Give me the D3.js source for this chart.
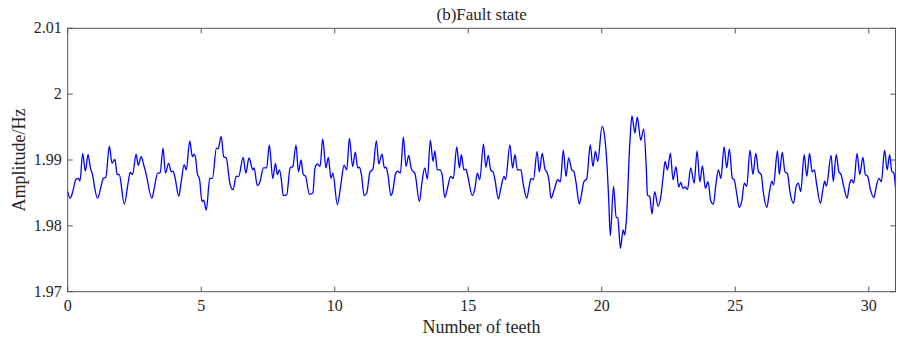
<!DOCTYPE html>
<html lang="en">
<head>
  <meta charset="UTF-8">
  <title>Fault state</title>
  <script src="https://d3js.org/d3.v7.min.js"></script>
  <style>
    body { margin: 0; background: #fff; }
  </style>
</head>
<body>
  <div id="chart"></div>
  <script>
    // Data (tooth number, amplitude)
    const teeth = [
      0.00, 0.09, 0.19, 0.31, 0.41, 0.46, 0.56, 0.66, 0.76, 0.85, 0.94, 1.00, 1.12, 1.25, 1.33, 1.43,
      1.56, 1.66, 1.77, 1.85, 1.93, 2.12, 2.25, 2.34, 2.43, 2.56, 2.64, 2.75, 2.85, 2.93, 3.15, 3.24,
      3.37, 3.46, 3.57, 3.66, 3.78, 3.88, 3.94, 4.01, 4.16, 4.25, 4.36, 4.44, 4.57, 4.67, 4.73, 4.79,
      4.85, 4.94, 5.03, 5.09, 5.19, 5.32, 5.42, 5.57, 5.63, 5.75, 5.84, 5.94, 6.07, 6.19, 6.31, 6.40,
      6.57, 6.67, 6.79, 6.93, 6.98, 7.10, 7.20, 7.33, 7.45, 7.55, 7.68, 7.78, 7.85, 7.93, 8.01, 8.07,
      8.20, 8.33, 8.43, 8.55, 8.64, 8.74, 8.82, 8.91, 9.05, 9.18, 9.26, 9.36, 9.45, 9.55, 9.67, 9.76,
      9.86, 9.93, 10.10, 10.22, 10.35, 10.45, 10.55, 10.67, 10.77, 10.86, 10.92, 11.00, 11.10, 11.20, 11.32, 11.43,
      11.56, 11.65, 11.77, 11.86, 11.92, 11.99, 12.10, 12.17, 12.27, 12.36, 12.46, 12.57, 12.67, 12.77, 12.86, 12.92,
      13.00, 13.17, 13.27, 13.37, 13.47, 13.58, 13.68, 13.75, 13.84, 13.94, 14.02, 14.12, 14.22, 14.34, 14.44, 14.57,
      14.67, 14.74, 14.84, 14.91, 14.97, 15.15, 15.25, 15.34, 15.43, 15.57, 15.66, 15.75, 15.84, 15.94, 16.00, 16.13,
      16.22, 16.34, 16.40, 16.56, 16.66, 16.75, 16.84, 16.97, 17.06, 17.19, 17.27, 17.35, 17.44, 17.58, 17.66, 17.77,
      17.88, 17.94, 18.02, 18.10, 18.22, 18.35, 18.45, 18.56, 18.66, 18.76, 18.88, 18.95, 19.04, 19.16, 19.25, 19.33,
      19.44, 19.57, 19.67, 19.76, 19.85, 20.01, 20.10, 20.20, 20.26, 20.32, 20.44, 20.54, 20.60, 20.70, 20.80, 20.86,
      20.92, 21.05, 21.13, 21.24, 21.33, 21.46, 21.57, 21.67, 21.71, 21.80, 21.88, 21.98, 22.11, 22.21, 22.30, 22.37,
      22.46, 22.57, 22.67, 22.78, 22.88, 22.96, 23.04, 23.13, 23.21, 23.33, 23.46, 23.57, 23.67, 23.77, 23.88, 23.98,
      24.08, 24.18, 24.28, 24.37, 24.46, 24.58, 24.68, 24.78, 24.89, 24.96, 25.06, 25.15, 25.24, 25.34, 25.43, 25.55,
      25.66, 25.77, 25.87, 25.97, 26.05, 26.18, 26.28, 26.37, 26.43, 26.58, 26.65, 26.76, 26.86, 26.95, 27.05, 27.18,
      27.28, 27.36, 27.45, 27.58, 27.68, 27.78, 27.88, 27.96, 28.04, 28.19, 28.28, 28.35, 28.41, 28.59, 28.67, 28.78,
      28.88, 28.96, 29.06, 29.19, 29.27, 29.35, 29.44, 29.56, 29.66, 29.78, 29.87, 29.96, 30.06, 30.19, 30.29, 30.38,
      30.47, 30.59, 30.69, 30.78, 30.86, 30.94, 31.00
    ];
    const amplitude = [
      1.9852, 1.9842, 1.9852, 1.9871, 1.9872, 1.9868, 1.9910, 1.9883, 1.9908, 1.9888, 1.9876, 1.9860, 1.9842, 1.9860, 1.9872, 1.9874,
      1.9921, 1.9895, 1.9901, 1.9878, 1.9878, 1.9833, 1.9862, 1.9881, 1.9878, 1.9909, 1.9892, 1.9905, 1.9892, 1.9880, 1.9842, 1.9857,
      1.9880, 1.9880, 1.9918, 1.9880, 1.9895, 1.9882, 1.9883, 1.9875, 1.9845, 1.9867, 1.9893, 1.9885, 1.9929, 1.9905, 1.9909, 1.9903,
      1.9880, 1.9870, 1.9837, 1.9839, 1.9824, 1.9872, 1.9872, 1.9918, 1.9917, 1.9936, 1.9905, 1.9903, 1.9865, 1.9855, 1.9875, 1.9875,
      1.9904, 1.9880, 1.9903, 1.9885, 1.9888, 1.9861, 1.9867, 1.9888, 1.9888, 1.9923, 1.9872, 1.9895, 1.9878, 1.9885, 1.9867, 1.9846,
      1.9847, 1.9888, 1.9890, 1.9923, 1.9882, 1.9900, 1.9878, 1.9875, 1.9848, 1.9850, 1.9888, 1.9894, 1.9890, 1.9932, 1.9888, 1.9904,
      1.9872, 1.9880, 1.9832, 1.9860, 1.9892, 1.9885, 1.9933, 1.9890, 1.9912, 1.9888, 1.9889, 1.9878, 1.9846, 1.9850, 1.9882, 1.9886,
      1.9929, 1.9894, 1.9909, 1.9888, 1.9889, 1.9878, 1.9846, 1.9852, 1.9878, 1.9883, 1.9880, 1.9935, 1.9890, 1.9907, 1.9888, 1.9883,
      1.9880, 1.9837, 1.9867, 1.9888, 1.9871, 1.9930, 1.9898, 1.9914, 1.9885, 1.9885, 1.9878, 1.9843, 1.9857, 1.9875, 1.9872, 1.9920,
      1.9888, 1.9908, 1.9885, 1.9886, 1.9878, 1.9846, 1.9857, 1.9880, 1.9870, 1.9924, 1.9889, 1.9907, 1.9885, 1.9881, 1.9870, 1.9841,
      1.9857, 1.9875, 1.9870, 1.9923, 1.9888, 1.9908, 1.9885, 1.9885, 1.9863, 1.9842, 1.9857, 1.9872, 1.9870, 1.9913, 1.9882, 1.9910,
      1.9885, 1.9882, 1.9870, 1.9842, 1.9855, 1.9870, 1.9867, 1.9915, 1.9875, 1.9903, 1.9885, 1.9883, 1.9865, 1.9833, 1.9850, 1.9867,
      1.9872, 1.9923, 1.9890, 1.9913, 1.9898, 1.9951, 1.9938, 1.9890, 1.9840, 1.9785, 1.9860, 1.9813, 1.9812, 1.9766, 1.9794, 1.9786,
      1.9808, 1.9925, 1.9967, 1.9941, 1.9965, 1.9930, 1.9947, 1.9885, 1.9847, 1.9844, 1.9818, 1.9852, 1.9830, 1.9844, 1.9875, 1.9898,
      1.9885, 1.9910, 1.9870, 1.9890, 1.9859, 1.9866, 1.9857, 1.9859, 1.9855, 1.9888, 1.9865, 1.9914, 1.9867, 1.9891, 1.9857, 1.9867,
      1.9838, 1.9833, 1.9865, 1.9885, 1.9872, 1.9920, 1.9888, 1.9917, 1.9872, 1.9870, 1.9847, 1.9828, 1.9837, 1.9865, 1.9860, 1.9915,
      1.9878, 1.9910, 1.9882, 1.9878, 1.9851, 1.9828, 1.9852, 1.9868, 1.9862, 1.9914, 1.9878, 1.9912, 1.9882, 1.9880, 1.9851, 1.9834,
      1.9860, 1.9865, 1.9852, 1.9908, 1.9875, 1.9910, 1.9882, 1.9885, 1.9865, 1.9834, 1.9855, 1.9868, 1.9860, 1.9907, 1.9867, 1.9908,
      1.9882, 1.9878, 1.9860, 1.9842, 1.9862, 1.9870, 1.9865, 1.9910, 1.9878, 1.9904, 1.9878, 1.9875, 1.9855, 1.9843, 1.9862, 1.9872,
      1.9867, 1.9915, 1.9885, 1.9908, 1.9883, 1.9880, 1.9857
    ];

    // Axis ticks
    const xTicks = [0, 5, 10, 15, 20, 25, 30];
    const yTicks = [1.97, 1.98, 1.99, 2.00, 2.01];
    const yTickLabels = ["1.97", "1.98", "1.99", "2", "2.01"];

    const width = 898;
    const height = 339;
    const margin = { top: 28.3, right: 2.5, bottom: 47.3, left: 67.7 };
    const tickLen = 5;
    const axisColor = "#555";
    const textColor = "#262626";
    const serif = "'Liberation Serif', 'Times New Roman', 'DejaVu Serif', serif";

    const svg = d3.select("#chart")
      .append("svg")
      .attr("width", width)
      .attr("height", height)
      .attr("font-family", serif);

    const x = d3.scaleLinear()
      .domain([0, 31])
      .range([margin.left, width - margin.right]);

    const y = d3.scaleLinear()
      .domain([1.97, 2.01])
      .range([height - margin.bottom, margin.top]);

    const x0 = x.range()[0], x1 = x.range()[1];
    const yBot = y.range()[0], yTop = y.range()[1];

    // The signal
    const points = teeth.map((t, i) => [t, amplitude[i]]);
    const line = d3.line()
      .x(d => x(d[0]))
      .y(d => y(d[1]))
      .curve(d3.curveMonotoneX);

    svg.append("path")
      .datum(points)
      .attr("fill", "none")
      .attr("stroke", "#0000ff")
      .attr("stroke-width", 1.3)
      .attr("stroke-linejoin", "round")
      .attr("d", line);

    // Box around the axes (MATLAB style, ticks inside on all four sides)
    svg.append("rect")
      .attr("x", x0)
      .attr("y", yTop)
      .attr("width", x1 - x0)
      .attr("height", yBot - yTop)
      .attr("fill", "none")
      .attr("stroke", axisColor)
      .attr("stroke-width", 1);

    const ticks = svg.append("g")
      .attr("stroke", axisColor)
      .attr("stroke-width", 1);

    xTicks.forEach(t => {
      ticks.append("line")
        .attr("x1", x(t)).attr("x2", x(t))
        .attr("y1", yBot).attr("y2", yBot - tickLen);
      ticks.append("line")
        .attr("x1", x(t)).attr("x2", x(t))
        .attr("y1", yTop).attr("y2", yTop + tickLen);
    });

    yTicks.forEach(v => {
      ticks.append("line")
        .attr("x1", x0).attr("x2", x0 + tickLen)
        .attr("y1", y(v)).attr("y2", y(v));
      ticks.append("line")
        .attr("x1", x1).attr("x2", x1 - tickLen)
        .attr("y1", y(v)).attr("y2", y(v));
    });

    // Tick labels
    svg.selectAll(".x-label")
      .data(xTicks)
      .join("text")
      .attr("class", "x-label")
      .attr("x", d => x(d))
      .attr("y", yBot + 19)
      .attr("text-anchor", "middle")
      .attr("fill", textColor)
      .style("font-size", "16px")
      .text(d => d);

    svg.selectAll(".y-label")
      .data(yTicks)
      .join("text")
      .attr("class", "y-label")
      .attr("x", x0 - 6)
      .attr("y", d => y(d) + 5)
      .attr("text-anchor", "end")
      .attr("fill", textColor)
      .style("font-size", "16px")
      .text((d, i) => yTickLabels[i]);

    // Titles
    svg.append("text")
      .attr("x", (x0 + x1) / 2)
      .attr("y", 20)
      .attr("text-anchor", "middle")
      .attr("fill", textColor)
      .style("font-size", "17px")
      .text("(b)Fault state");

    svg.append("text")
      .attr("x", (x0 + x1) / 2)
      .attr("y", 333)
      .attr("text-anchor", "middle")
      .attr("fill", textColor)
      .style("font-size", "18px")
      .text("Number of teeth");

    svg.append("text")
      .attr("transform", `translate(25, ${(yTop + yBot) / 2}) rotate(-90)`)
      .attr("text-anchor", "middle")
      .attr("fill", textColor)
      .style("font-size", "18px")
      .text("Amplitude/Hz");
  </script>
</body>
</html>
